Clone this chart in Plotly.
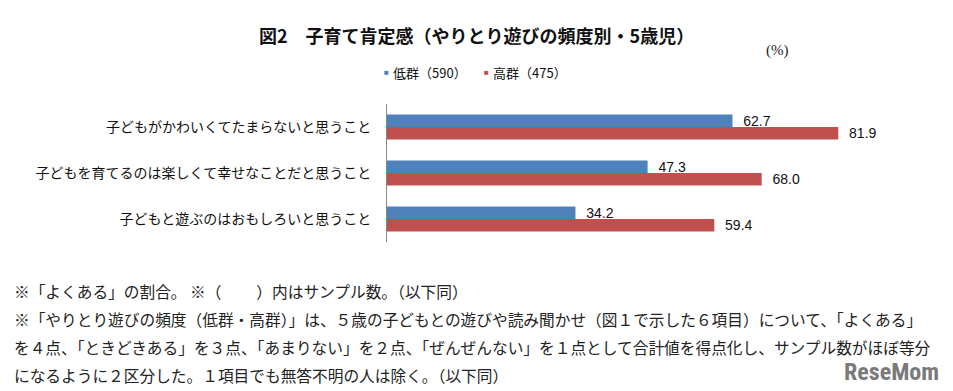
import plotly.graph_objects as go

categories = [
    "子どもがかわいくてたまらないと思うこと",
    "子どもを育てるのは楽しくて幸せなことだと思うこと",
    "子どもと遊ぶのはおもしろいと思うこと",
]
low_name = "低群（590）"
high_name = "高群（475）"
low_values = [62.7, 47.3, 34.2]
high_values = [81.9, 68.0, 59.4]

title_text = "図2　子育て肯定感（やりとり遊びの頻度別・5歳児）"
unit_text = "(%)"
footnotes = [
    "※「よくある」の割合。 ※（　　 ）内はサンプル数。（以下同）",
    "※「やりとり遊びの頻度（低群・高群）」は、５歳の子どもとの遊びや読み聞かせ（図１で示した６項目）について、「よくある」",
    "を４点、「ときどきある」を３点、「あまりない」を２点、「ぜんぜんない」を１点として合計値を得点化し、サンプル数がほぼ等分",
    "になるように２区分した。１項目でも無答不明の人は除く。（以下同）",
]

BLUE = "#4F81BD"
RED = "#C0504D"

# page body has an 8px default margin; the figure is sized to fill the rest
OFF = 8
W, H = 953 - OFF, 391 - OFF
L, R, T, B = 387 - OFF, 938 - OFF, 104 - OFF, 242 - OFF  # plot area in figure pixels


def px(x):
    return (x - OFF - L) / (R - L)


def py(y):
    return (B - (y - OFF)) / (B - T)


JP = "Noto Sans CJK JP, sans-serif"
NUM = "Liberation Sans, Arial, sans-serif"

fig = go.Figure()
for name, vals, col in [(low_name, low_values, BLUE), (high_name, high_values, RED)]:
    fig.add_trace(go.Bar(
        y=categories, x=vals, name=name, orientation="h",
        marker=dict(color=col, line=dict(width=0)),
        texttemplate="\u2007%{x:.1f}", textposition="outside", constraintext="none",
        textfont=dict(family=NUM, size=14, color="#111"), cliponaxis=False,
    ))

annotations = [
    dict(text="<b>" + title_text + "</b>", x=px(257), y=py(35), xref="paper", yref="paper",
         xanchor="left", yanchor="middle", showarrow=False,
         font=dict(family=JP, size=18, color="#111")),
    dict(text=unit_text, x=px(777), y=py(50), xref="paper", yref="paper",
         xanchor="center", yanchor="middle", showarrow=False,
         font=dict(family="Liberation Serif, serif", size=15, color="#222")),
    dict(text="<b>ReseMom</b>", x=px(891), y=py(372), xref="paper", yref="paper",
         xanchor="center", yanchor="middle", showarrow=False,
         font=dict(family="Roboto Condensed, Liberation Sans Narrow, Arial Narrow, sans-serif", size=24, color="#7a7a7a")),
    # legend
    dict(text="■", x=px(386), y=py(72), xref="paper", yref="paper",
         xanchor="center", yanchor="middle", showarrow=False,
         font=dict(family=NUM, size=8, color=BLUE)),
    dict(text=low_name, x=px(391), y=py(72), xref="paper", yref="paper",
         xanchor="left", yanchor="middle", showarrow=False,
         font=dict(family=JP, size=13, color="#111")),
    dict(text="■", x=px(486), y=py(72), xref="paper", yref="paper",
         xanchor="center", yanchor="middle", showarrow=False,
         font=dict(family=NUM, size=8, color=RED)),
    dict(text=high_name, x=px(491), y=py(72), xref="paper", yref="paper",
         xanchor="left", yanchor="middle", showarrow=False,
         font=dict(family=JP, size=13, color="#111")),
]
for i, line in enumerate(footnotes):
    annotations.append(dict(
        text=line, x=px(12), y=py(291 + 28 * i), xref="paper", yref="paper",
        xanchor="left", yanchor="middle", showarrow=False,
        font=dict(family=JP, size=15.7, color="#222"),
    ))

fig.update_layout(
    width=W, height=H,
    margin=dict(l=L, r=W - R, t=T, b=H - B, pad=0),
    paper_bgcolor="white", plot_bgcolor="white",
    barmode="group", bargap=0.46, bargroupgap=0,
    showlegend=False,
    xaxis=dict(range=[0, 100], showgrid=False, zeroline=False, showticklabels=False,
               showline=False, ticks=""),
    yaxis=dict(autorange="reversed", showline=True, linecolor="#888", linewidth=1,
               ticks="", ticklabelstandoff=12,
               tickfont=dict(family=JP, size=14, color="#111")),
    annotations=annotations,
)

fig.write_html("out.html")
